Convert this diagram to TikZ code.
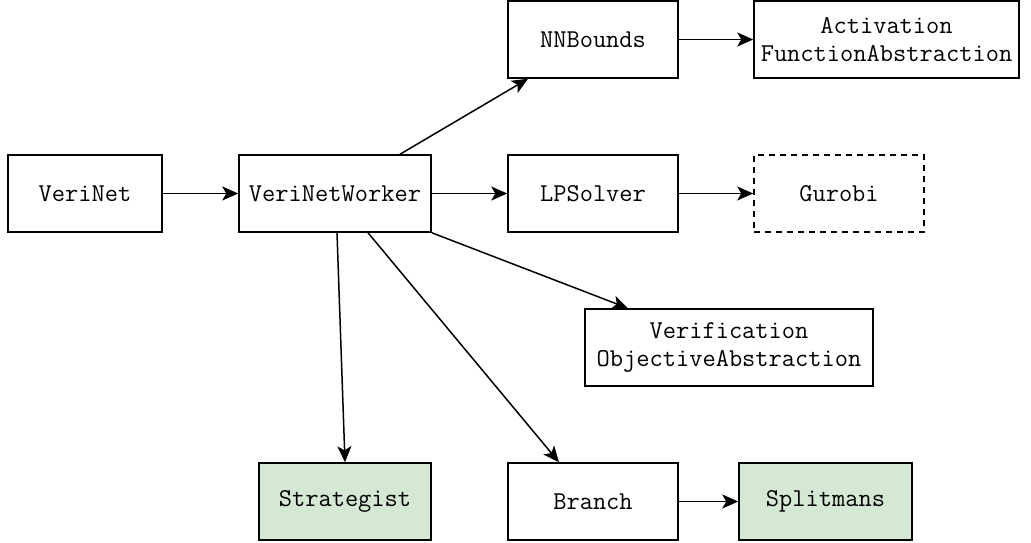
\documentclass[tikz,border=0pt]{standalone}
\usepackage{fontspec}
\usetikzlibrary{arrows.meta,calc}
\definecolor{boxgreen}{HTML}{D5E8D4}
\tikzset{
  block/.style={draw=black, line width=1.5pt, fill=white, rectangle,
    minimum height=77pt, inner sep=0pt, align=center,
    font=\ttfamily\fontsize{25.7}{28}\selectfont},
  greenblock/.style={block, fill=boxgreen},
  dashblock/.style={block, dash pattern=on 6pt off 5pt},
  link/.style={line width=1.5pt, -{Stealth[length=16pt,width=14pt,inset=4pt]}}
}
\begin{document}
\begin{tikzpicture}[x=1pt,y=-1pt]
\useasboundingbox (0,0) rectangle (1031,543);
\node[block, minimum width=154pt] (verinet) at (85,193.5) {VeriNet};
\node[block, minimum width=192pt] (vnw) at (335,193.5) {VeriNetWorker};
\node[block, minimum width=170pt] (nnb) at (593,39.5) {NNBounds};
\node[block, minimum width=265pt] (afa) at (886.5,39.5) {Activation\\FunctionAbstraction};
\node[block, minimum width=170pt] (lps) at (593,193.5) {LPSolver};
\node[dashblock, minimum width=170pt] (gur) at (839,193.5) {Gurobi};
\node[block, minimum width=288pt] (voa) at (729,347.5) {Verification\\ObjectiveAbstraction};
\node[greenblock, minimum width=172pt] (strat) at (345,501.5) {Strategist};
\node[block, minimum width=170pt] (branch) at (593,501.5) {Branch};
\node[greenblock, minimum width=173pt] (split) at (825.5,501.5) {Splitmans};

\draw[link] (verinet) -- (vnw);
\draw[link] (vnw) -- (lps);
\draw[link] (nnb) -- (afa);
\draw[link] (lps) -- (gur);
\draw[link] (branch) -- (split);
\draw[link] ($(vnw.north)+(65,0)$) -- ($(nnb.south)+(-65,0)$);
\draw[link] (vnw.south east) -- ($(voa.north)+(-101,0)$);
\draw[link] ($(vnw.south)+(2,0)$) -- (strat.north);
\draw[link] ($(vnw.south)+(33,0)$) -- ($(branch.north)+(-34,0)$);
\end{tikzpicture}
\end{document}
